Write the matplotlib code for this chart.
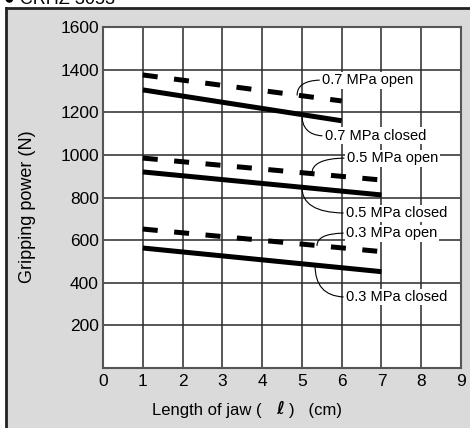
import matplotlib
matplotlib.use("Agg")
import matplotlib.pyplot as plt
import numpy as np
from matplotlib.patches import Rectangle
from matplotlib.lines import Line2D

# data (N)
x_short = [1, 6]
x_long = [1, 7]
open_07 = [1375, 1253]
closed_07 = [1305, 1160]
open_05 = [985, 882]
closed_05 = [920, 812]
open_03 = [652, 546]
closed_03 = [563, 452]

x_ticks = list(range(0, 10))
y_ticks = list(range(200, 1601, 200))

W, H = 470, 428
fig = plt.figure(figsize=(W / 100, H / 100), dpi=100)
fig.patch.set_facecolor("white")

# gray panel with dark top/left border
fig.patches.append(Rectangle((6 / W, 0), 1, 1 - 8 / H, transform=fig.transFigure,
                             facecolor="#dadada", edgecolor="none", zorder=-2))
fig.lines.append(Line2D([6 / W, 6 / W], [0, 1 - 8 / H], transform=fig.transFigure,
                        color="#222222", lw=2, zorder=-1))
fig.lines.append(Line2D([6 / W, 1], [1 - 8 / H, 1 - 8 / H], transform=fig.transFigure,
                        color="#222222", lw=2, zorder=-1))
fig.text(4 / W, 1 + 1 / H, "\u25cf CRHZ 3053", fontsize=13, family="Liberation Sans",
         va="center", ha="left")

ax = fig.add_axes([103 / W, 1 - 368 / H, (461 - 103) / W, (368 - 27) / H])
ax.set_zorder(2)
ax.set_facecolor("white")
ax.set_xlim(0, 9)
ax.set_ylim(0, 1600)
ax.set_xticks(x_ticks)
ax.set_yticks(y_ticks)
ax.tick_params(length=0, labelsize=12.5)
ax.tick_params(axis="y", pad=3)
ax.tick_params(axis="x", pad=4)
for lab in ax.get_xticklabels() + ax.get_yticklabels():
    lab.set_family("Liberation Sans")
ax.grid(True, color="#2a2a2a", lw=1.1)
for s in ax.spines.values():
    s.set_color("#555555")
    s.set_linewidth(1.5)

lw = 3.6
dash = (0, (3.0, 3.3))
ax.plot(x_short, closed_07, color="black", lw=lw, solid_capstyle="butt")
ax.plot(x_short, open_07, color="black", lw=lw, ls=dash, dash_capstyle="butt")
ax.plot(x_long, closed_05, color="black", lw=lw, solid_capstyle="butt")
ax.plot(x_long, open_05, color="black", lw=lw, ls=dash, dash_capstyle="butt")
ax.plot(x_long, closed_03, color="black", lw=lw, solid_capstyle="butt")
ax.plot(x_long, open_03, color="black", lw=lw, ls=dash, dash_capstyle="butt")

# label, line x, line y, x where the leader meets the line, text position
notes = [
    ("0.7 MPa open", x_short, open_07, 4.88, (5.51, 1351)),
    ("0.7 MPa closed", x_short, closed_07, 5.0, (5.58, 1089)),
    ("0.5 MPa open", x_long, open_05, 5.25, (6.13, 985)),
    ("0.5 MPa closed", x_long, closed_05, 5.0, (6.11, 727)),
    ("0.3 MPa open", x_long, open_03, 5.38, (6.11, 633)),
    ("0.3 MPa closed", x_long, closed_03, 5.33, (6.11, 333)),
]
for label, xs, ys, xp, xytext in notes:
    yp = np.interp(xp, xs, ys)
    ax.annotate(label, xy=(xp, yp), xytext=xytext, ha="left", va="center",
                fontsize=10.5, family=["Liberation Sans Narrow", "Liberation Sans"],
                bbox=dict(boxstyle="square,pad=0.1", fc="white", ec="none"),
                arrowprops=dict(arrowstyle="-", color="black", lw=0.8,
                                shrinkA=1, shrinkB=0, relpos=(0, 0.5),
                                connectionstyle="angle3,angleA=0,angleB=90"))

fig.text(28 / W, 1 - 207 / H, "Gripping power (N)", rotation=90, fontsize=13,
         family="Liberation Sans", ha="center", va="center")
fig.text(152 / W, 1 - 410 / H, "Length of jaw (", fontsize=12,
         family="Liberation Sans", ha="left", va="center")
fig.text(280 / W, 1 - 409 / H, "\u2113", fontsize=12, family="DejaVu Sans",
         weight="bold", ha="center", va="center")
fig.text(289 / W, 1 - 410 / H, ")   (cm)", fontsize=12,
         family="Liberation Sans", ha="left", va="center")

fig.savefig("out.png", dpi=100)
